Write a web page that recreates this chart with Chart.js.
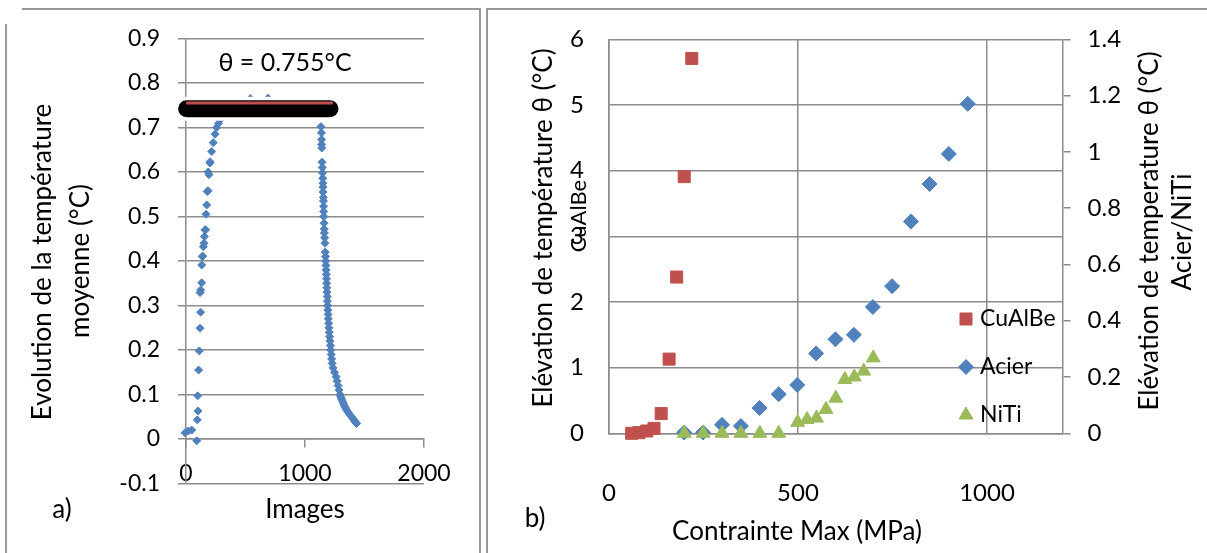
<!DOCTYPE html>
<html>
<head>
<meta charset="utf-8">
<script src="https://cdn.jsdelivr.net/npm/chart.js@4.4.1/dist/chart.umd.min.js"></script>
<style>
  html, body { margin: 0; padding: 0; background: #fff; }
  body { width: 1207px; height: 553px; position: relative; overflow: hidden; }
  .panel { position: absolute; top: 0; }
  #left { left: 0; }
  #right { left: 487px; }
  .rule { position: absolute; background: #999; }
</style>
</head>
<body>
<div class="panel" id="left"><canvas id="chartA" width="480" height="553"></canvas></div>
<div class="panel" id="right"><canvas id="chartB" width="720" height="553"></canvas></div>
<div class="rule" style="left:5px;top:24px;width:2px;height:529px"></div>
<div class="rule" style="left:22px;top:8px;width:459px;height:2px"></div>
<div class="rule" style="left:479px;top:8px;width:2px;height:545px"></div>
<div class="rule" style="left:486px;top:8px;width:2px;height:545px"></div>
<div class="rule" style="left:486px;top:8px;width:721px;height:2px"></div>
<script>
/* ============================================================
   DATA - panel a) mean temperature vs image number
============================================================ */
const riseX = [-8, 19, 48, 90, 95, 101, 98, 106, 112, 118, 123, 118, 123, 132, 132, 137, 140, 146, 151, 154, 160, 165, 168, 174, 179, 185, 187, 193, 202, 202, 216, 229, 244, 258, 272, 286];
const riseY = [0.014, 0.018, 0.02, -0.004, 0.043, 0.063, 0.097, 0.155, 0.198, 0.249, 0.285, 0.329, 0.335, 0.351, 0.391, 0.41, 0.411, 0.432, 0.44, 0.455, 0.47, 0.47, 0.505, 0.526, 0.556, 0.558, 0.6, 0.594, 0.62, 0.623, 0.646, 0.666, 0.685, 0.7, 0.709, 0.717];

// plateau, mostly hidden behind the marker bar
const plateauX = [320, 380, 450, 540, 610, 690, 760, 830, 900, 970, 1040, 1100];
const plateauY = [0.745, 0.752, 0.755, 0.765, 0.757, 0.766, 0.757, 0.755, 0.756, 0.754, 0.75, 0.74];

const fallX = [1134, 1138, 1140, 1140, 1141, 1143, 1145, 1147, 1149, 1150, 1151, 1152, 1154, 1155, 1156, 1157, 1158, 1160, 1162, 1163, 1165, 1168,
  1170, 1172, 1174, 1176, 1178, 1179, 1181, 1182, 1184, 1185, 1187, 1188, 1190, 1192, 1194, 1196, 1199, 1201, 1204, 1207, 1210, 1213, 1216, 1220,
  1224, 1228, 1236, 1248, 1261, 1270, 1278, 1286, 1294, 1300, 1307, 1315, 1322, 1330, 1340, 1350, 1362, 1375, 1390, 1405, 1418, 1427, 1434];
const fallY = [0.702, 0.688, 0.673, 0.662, 0.654, 0.622, 0.61, 0.598, 0.586, 0.575, 0.566, 0.555, 0.543, 0.535, 0.523, 0.511, 0.5, 0.485, 0.472, 0.463, 0.452, 0.44,
  0.42, 0.41, 0.40, 0.39, 0.38, 0.37, 0.36, 0.35, 0.34, 0.33, 0.32, 0.31, 0.30, 0.29, 0.28, 0.27, 0.26, 0.25, 0.24, 0.23, 0.22, 0.21, 0.20, 0.19,
  0.18, 0.17, 0.16, 0.15, 0.14, 0.13, 0.12, 0.11, 0.10, 0.095, 0.09, 0.085, 0.08, 0.075, 0.07, 0.065, 0.06, 0.055, 0.05, 0.045, 0.04, 0.037, 0.035];

const thetaX = [0, 1235];
const thetaY = [0.755, 0.755];
const barX = [5, 1210];
const barY = [0.742, 0.742];
const maskX = [-70, 1100];
const maskY = [0.742, 0.742];

const xTicksA = [0, 1000, 2000];
const yTicksA = [-0.1, 0, 0.1, 0.2, 0.3, 0.4, 0.5, 0.6, 0.7, 0.8, 0.9];

const titleA = "θ = 0.755°C";
const xTitleA = "Images";
const yTitleA = ["Evolution de la température", "moyenne (°C)"];

/* ============================================================
   DATA - panel b) temperature rise vs max stress
============================================================ */
const cualbeX = [60, 79, 100, 119, 138, 159, 179, 199, 219];
const cualbeY = [0.0, 0.01, 0.035, 0.075, 0.30, 1.13, 2.38, 3.91, 5.71];

const acierX = [199, 249, 299, 349, 398, 449, 498, 548, 599, 648, 698, 749, 799, 848, 899, 949];
const acierY = [0.003, 0.003, 0.030, 0.026, 0.090, 0.139, 0.172, 0.284, 0.334, 0.350, 0.449, 0.523, 0.753, 0.886, 0.993, 1.171];

const nitiX = [199, 249, 299, 349, 399, 449, 499, 524, 549, 574, 600, 624, 649, 674, 699];
const nitiY = [0, 0, 0, 0, 0, 0, 0.039, 0.049, 0.054, 0.085, 0.125, 0.191, 0.200, 0.221, 0.268];

const xTicksB = [0, 500, 1000];

const xTitleB = "Contrainte Max (MPa)";
const yTitleB = ["Elévation de température θ (°C)", "CuAlBe"];
const y2TitleB = ["Elévation de temperature θ (°C)", "Acier/NiTi"];

/* ============================================================
   STYLE
============================================================ */
const FONT = 'Lato, "Open Sans", sans-serif';
const GRID = '#8c8c8c';
const RED = '#C0504D';
const BLUE = '#4F81BD';
const GREEN = '#9BBB59';

Chart.defaults.font.family = FONT;
Chart.defaults.color = '#000';

const pts = (xs, ys) => xs.map((x, i) => ({ x, y: ys[i] }));
const fmt = v => String(Math.round(v * 10) / 10);
const fixTicks = list => s => { s.ticks = list.map(v => ({ value: v })); };

function vText(ctx, txt, x, y) {
    ctx.save();
    ctx.translate(x, y);
    ctx.rotate(-Math.PI / 2);
    ctx.fillText(txt, 0, 0);
    ctx.restore();
}

/* ============================================================
   Panel a)
============================================================ */
const textA = {
    id: 'textA',
    afterDraw(chart) {
        const ctx = chart.ctx;
        ctx.save();
        ctx.fillStyle = '#000';
        ctx.textAlign = 'center';
        ctx.textBaseline = 'middle';
        ctx.font = '25px ' + FONT;
        ctx.fillText(titleA, 285, 63);
        ctx.font = '26px ' + FONT;
        ctx.fillText(xTitleA, 305, 510);
        ctx.fillText('a)', 62, 510);
        vText(ctx, yTitleA[0], 43, 262);
        vText(ctx, yTitleA[1], 81, 261);
        ctx.restore();
    }
};

new Chart(document.getElementById('chartA'), {
    type: 'scatter',
    data: {
        datasets: [
            { data: pts(thetaX, thetaY), showLine: true, borderColor: RED, borderWidth: 3, pointRadius: 0, order: 0, clip: false },
            { data: pts(barX, barY), showLine: true, borderColor: '#000', borderWidth: 17, borderCapStyle: 'round', pointRadius: 0, order: 1, clip: false },
            { data: pts(maskX, maskY), showLine: true, borderColor: '#fff', borderWidth: 24, pointRadius: 0, order: 2, clip: false },
            {
                data: pts(riseX, riseY).concat(pts(plateauX, plateauY), pts(fallX, fallY)),
                pointStyle: 'rectRot', pointRadius: 4, backgroundColor: BLUE, borderColor: BLUE, borderWidth: 1,
                order: 3, clip: false
            }
        ]
    },
    options: {
        responsive: false,
        animation: false,
        events: [],
        layout: { padding: { left: 0, top: 38.5, right: 56, bottom: 69.5 } },
        plugins: { legend: { display: false }, tooltip: { enabled: false } },
        scales: {
            x: {
                type: 'linear', position: { y: 0 }, min: 0, max: 2000,
                afterBuildTicks: fixTicks(xTicksA),
                ticks: { padding: 13, callback: v => String(v), font: { size: 23 } },
                grid: { drawOnChartArea: false, tickLength: 8, color: GRID, lineWidth: 1.5 },
                border: { color: GRID, width: 1.5 }
            },
            y: {
                type: 'linear', min: -0.1, max: 0.9,
                afterBuildTicks: fixTicks(yTicksA),
                ticks: { padding: 18, callback: fmt, font: { size: 23 } },
                grid: { tickLength: 8, color: GRID, lineWidth: 1.5 },
                border: { color: GRID, width: 1.5 },
                afterFit: s => { s.width = 186; }
            }
        }
    },
    plugins: [textA]
});

/* ============================================================
   Panel b)
============================================================ */
const legendB = [
    { label: 'CuAlBe', color: RED, style: 'rect', radius: 8.5, y: 319 },
    { label: 'Acier', color: BLUE, style: 'rectRot', radius: 7.5, y: 367 },
    { label: 'NiTi', color: GREEN, style: 'triangle', radius: 8, y: 415 }
];

const textB = {
    id: 'textB',
    afterDraw(chart) {
        const ctx = chart.ctx;
        ctx.save();
        ctx.fillStyle = '#000';
        ctx.textAlign = 'center';
        ctx.textBaseline = 'middle';
        ctx.font = '26px ' + FONT;
        ctx.fillText(xTitleB, 310, 532);
        ctx.fillText('b)', 48, 519);
        vText(ctx, yTitleB[0], 56.5, 228);
        vText(ctx, y2TitleB[0], 663, 231);
        vText(ctx, y2TitleB[1], 696, 232);
        ctx.font = '22px ' + FONT;
        vText(ctx, yTitleB[1], 92, 216);

        // legend inside the plot, right side
        ctx.font = '23px ' + FONT;
        ctx.textAlign = 'left';
        legendB.forEach(it => {
            ctx.fillStyle = it.color;
            ctx.strokeStyle = it.color;
            ctx.lineWidth = 1;
            Chart.helpers.drawPoint(ctx, { pointStyle: it.style, radius: it.radius, rotation: 0, borderWidth: 1 }, 479, it.y);
            ctx.fillStyle = '#000';
            ctx.fillText(it.label, 493, it.y);
        });
        ctx.restore();
    }
};

new Chart(document.getElementById('chartB'), {
    type: 'scatter',
    data: {
        datasets: [
            { label: 'NiTi', data: pts(nitiX, nitiY), yAxisID: 'y2', pointStyle: 'triangle', pointRadius: 8, backgroundColor: GREEN, borderColor: GREEN, borderWidth: 1, order: 0, clip: false },
            { label: 'Acier', data: pts(acierX, acierY), yAxisID: 'y2', pointStyle: 'rectRot', pointRadius: 7.5, backgroundColor: BLUE, borderColor: BLUE, borderWidth: 1, order: 1, clip: false },
            { label: 'CuAlBe', data: pts(cualbeX, cualbeY), yAxisID: 'y', pointStyle: 'rect', pointRadius: 8.5, backgroundColor: RED, borderColor: RED, borderWidth: 1, order: 2, clip: false }
        ]
    },
    options: {
        responsive: false,
        animation: false,
        events: [],
        layout: { padding: { left: 0, top: 37.3, right: 0, bottom: 0 } },
        plugins: { legend: { display: false }, tooltip: { enabled: false } },
        scales: {
            x: {
                type: 'linear', position: 'bottom', min: 0, max: 1200,
                afterBuildTicks: fixTicks(xTicksB),
                ticks: { padding: 46, callback: v => String(v), font: { size: 24 } },
                grid: { drawTicks: false, color: GRID, lineWidth: 1.5 },
                border: { color: GRID, width: 1.5 },
                afterFit: s => { s.height = 119.7; }
            },
            y: {
                type: 'linear', position: 'left', min: 0, max: 6,
                ticks: { stepSize: 1, padding: 25, font: { size: 24 } },
                grid: { drawTicks: false, color: GRID, lineWidth: 1.5 },
                border: { color: GRID, width: 1.5 },
                afterFit: s => { s.width = 122; }
            },
            y2: {
                type: 'linear', position: 'right', min: 0, max: 1.4,
                ticks: { stepSize: 0.2, padding: 17, callback: fmt, font: { size: 24 } },
                grid: { drawOnChartArea: false, tickLength: 8, color: GRID, lineWidth: 1.5 },
                border: { color: GRID, width: 1.5 },
                afterFit: s => { s.width = 144.4; }
            }
        }
    },
    plugins: [textB]
});
</script>
</body>
</html>
